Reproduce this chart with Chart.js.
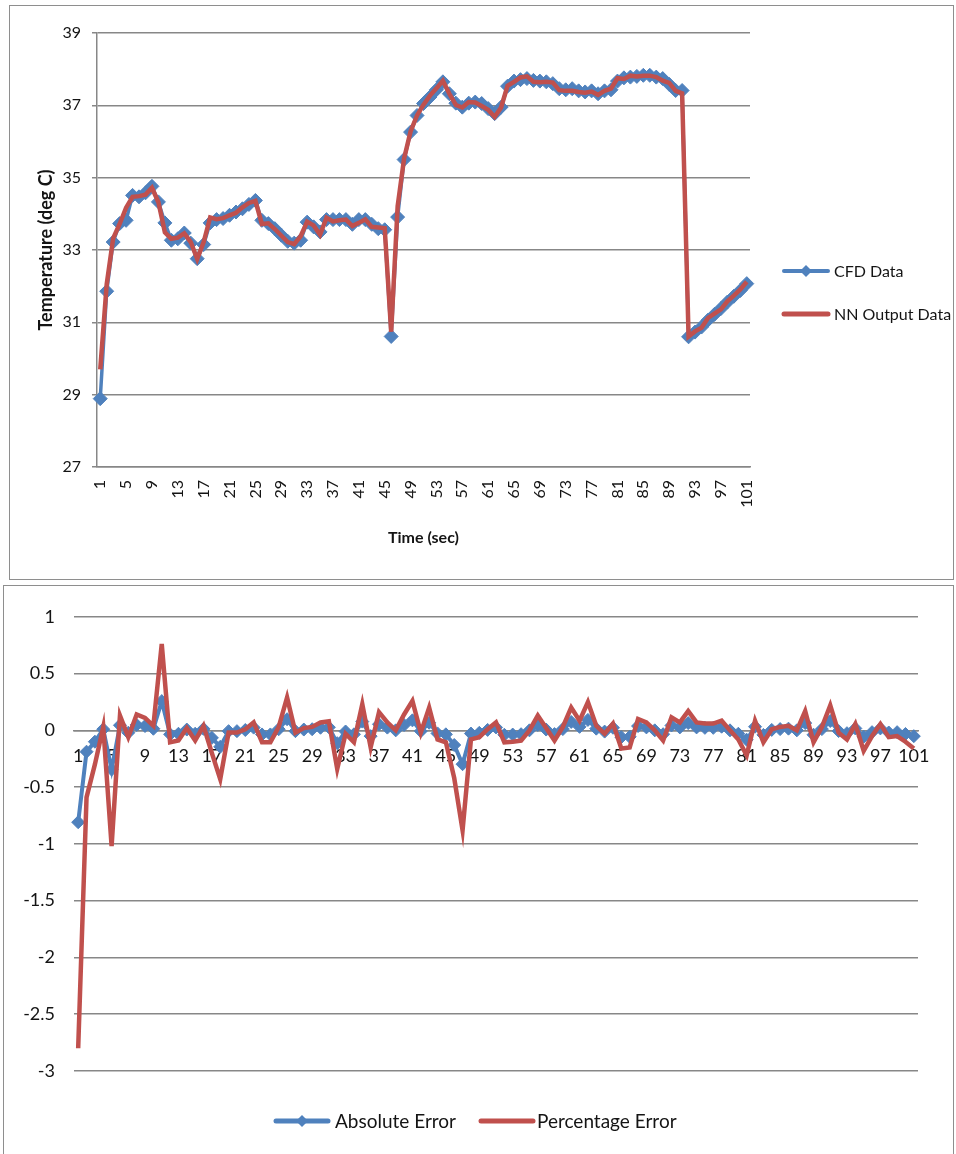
<!DOCTYPE html>
<html>
<head>
<meta charset="utf-8">
<script src="https://cdn.jsdelivr.net/npm/chart.js@4.4.1/dist/chart.umd.min.js"></script>
<style>
  html, body { margin: 0; padding: 0; background: #fff; }
  body { width: 956px; height: 1154px; position: relative; overflow: hidden; }
  .frame { position: absolute; border: 1.5px solid #8e8e8e; box-sizing: border-box; background: #fff; }
  #topFrame { left: 9px; top: 5px; width: 945px; height: 575px; }
  #bottomFrame { left: 3px; top: 585px; width: 951px; height: 590px; }
  canvas { position: absolute; }
</style>
</head>
<body>
<div class="frame" id="topFrame"></div>
<div class="frame" id="bottomFrame"></div>
<canvas id="tempChart" style="left:11px;top:7px;" width="941" height="571"></canvas>
<canvas id="errorChart" style="left:4px;top:587px;" width="949" height="567"></canvas>

<script>
// Time steps (sec)
const timeSteps = [
  '1','2','3','4','5','6','7','8','9','10','11','12','13','14','15','16','17','18','19','20',
  '21','22','23','24','25','26','27','28','29','30','31','32','33','34','35','36','37','38','39','40',
  '41','42','43','44','45','46','47','48','49','50','51','52','53','54','55','56','57','58','59','60',
  '61','62','63','64','65','66','67','68','69','70','71','72','73','74','75','76','77','78','79','80',
  '81','82','83','84','85','86','87','88','89','90','91','92','93','94','95','96','97','98','99','100',
  '101'
];

// Temperature from the CFD model (deg C)
const cfdData = [
  28.89, 31.86, 33.22, 33.73, 33.82, 34.51, 34.47, 34.58, 34.76, 34.33,
  33.75, 33.27, 33.31, 33.47, 33.19, 32.76, 33.15, 33.75, 33.84, 33.87,
  33.96, 34.05, 34.14, 34.26, 34.37, 33.82, 33.73, 33.59, 33.41, 33.24,
  33.19, 33.27, 33.77, 33.64, 33.50, 33.84, 33.84, 33.84, 33.84, 33.71,
  33.84, 33.84, 33.71, 33.59, 33.56, 30.61, 33.91, 35.50, 36.26, 36.72,
  37.05, 37.23, 37.43, 37.65, 37.32, 37.06, 36.95, 37.06, 37.09, 37.05,
  36.91, 36.77, 36.95, 37.53, 37.67, 37.71, 37.74, 37.69, 37.67, 37.65,
  37.60, 37.46, 37.43, 37.46, 37.40, 37.37, 37.40, 37.32, 37.40, 37.43,
  37.67, 37.76, 37.78, 37.80, 37.83, 37.83, 37.78, 37.74, 37.58, 37.41,
  37.41, 30.60, 30.73, 30.87, 31.06, 31.22, 31.38, 31.56, 31.72, 31.88,
  32.07
];

// Temperature predicted by the neural network (deg C)
const nnData = [
  29.70, 32.05, 33.32, 33.72, 34.17, 34.47, 34.49, 34.53, 34.72, 34.32,
  33.49, 33.31, 33.34, 33.46, 33.22, 32.75, 33.22, 33.90, 33.85, 33.88,
  33.96, 34.03, 34.18, 34.30, 34.36, 33.72, 33.74, 33.58, 33.40, 33.22,
  33.16, 33.38, 33.78, 33.68, 33.42, 33.89, 33.79, 33.82, 33.84, 33.66,
  33.75, 33.85, 33.64, 33.62, 33.60, 30.74, 34.21, 35.53, 36.28, 36.72,
  37.02, 37.27, 37.47, 37.68, 37.32, 37.01, 36.94, 37.09, 37.08, 36.98,
  36.88, 36.68, 36.94, 37.54, 37.65, 37.77, 37.80, 37.65, 37.64, 37.65,
  37.63, 37.42, 37.40, 37.40, 37.37, 37.35, 37.38, 37.29, 37.40, 37.46,
  37.75, 37.73, 37.82, 37.80, 37.82, 37.82, 37.78, 37.68, 37.62, 37.40,
  37.33, 30.61, 30.75, 30.85, 31.12, 31.24, 31.36, 31.58, 31.74, 31.91,
  32.12
];

// CFD minus NN (deg C)
const absoluteError = [
  -0.809, -0.188, -0.100, 0.010, -0.345, 0.045, -0.021, 0.048, 0.038, 0.014,
  0.257, -0.035, -0.030, 0.007, -0.030, 0.013, -0.066, -0.145, -0.007, -0.007,
  0.003, 0.024, -0.036, -0.036, 0.010, 0.098, -0.007, 0.007, 0.010, 0.023,
  0.027, -0.113, -0.010, -0.035, 0.077, -0.051, 0.054, 0.024, 0.000, 0.047,
  0.088, -0.007, 0.067, -0.027, -0.035, -0.129, -0.298, -0.028, -0.022, 0.004,
  0.026, -0.039, -0.037, -0.034, 0.000, 0.048, 0.007, -0.033, 0.011, 0.074,
  0.031, 0.092, 0.015, -0.011, 0.023, -0.060, -0.057, 0.038, 0.026, 0.000,
  -0.034, 0.043, 0.026, 0.064, 0.026, 0.022, 0.022, 0.032, 0.000, -0.030,
  -0.083, 0.032, -0.040, 0.004, 0.011, 0.015, 0.000, 0.064, -0.039, 0.011,
  0.082, -0.006, -0.025, 0.017, -0.056, -0.016, 0.017, -0.019, -0.016, -0.032,
  -0.051
];

// Error relative to the CFD value (%)
const percentageError = [
  -2.80, -0.59, -0.30, 0.03, -1.02, 0.13, -0.06, 0.14, 0.11, 0.04,
  0.76, -0.105, -0.09, 0.02, -0.09, 0.04, -0.20, -0.43, -0.02, -0.02,
  0.01, 0.07, -0.105, -0.105, 0.03, 0.29, -0.02, 0.02, 0.03, 0.07,
  0.08, -0.34, -0.03, -0.105, 0.23, -0.15, 0.16, 0.07, 0.00, 0.14,
  0.26, -0.02, 0.20, -0.08, -0.105, -0.42, -0.88, -0.08, -0.06, 0.01,
  0.07, -0.105, -0.10, -0.09, 0.00, 0.13, 0.02, -0.09, 0.03, 0.20,
  0.085, 0.25, 0.04, -0.03, 0.06, -0.16, -0.15, 0.10, 0.07, 0.00,
  -0.09, 0.115, 0.07, 0.17, 0.07, 0.06, 0.06, 0.085, 0.00, -0.08,
  -0.22, 0.085, -0.105, 0.01, 0.03, 0.04, 0.00, 0.17, -0.105, 0.03,
  0.22, -0.02, -0.08, 0.055, -0.18, -0.05, 0.055, -0.06, -0.05, -0.10,
  -0.16
];

const BLUE = '#4F81BD';
const RED = '#C0504D';
const GRID = '#878787';
const TEXT = '#141414';
const FONT = 'Lato, "Open Sans", sans-serif';

// Hand-drawn legend: a line sample (optionally with a diamond) plus the dataset label
const lineLegend = {
  id: 'lineLegend',
  afterDraw(chart, args, opts) {
    const ctx = chart.ctx;
    ctx.save();
    opts.items.forEach(item => {
      const ds = chart.data.datasets[item.dataset];
      ctx.strokeStyle = ds.borderColor;
      ctx.lineWidth = item.width;
      ctx.lineCap = 'round';
      ctx.beginPath();
      ctx.moveTo(item.x, item.y);
      ctx.lineTo(item.x + item.len, item.y);
      ctx.stroke();
      if (item.marker) {
        const cx = item.x + item.len / 2, r = item.marker;
        ctx.fillStyle = ds.borderColor;
        ctx.beginPath();
        ctx.moveTo(cx, item.y - r);
        ctx.lineTo(cx + r, item.y);
        ctx.lineTo(cx, item.y + r);
        ctx.lineTo(cx - r, item.y);
        ctx.closePath();
        ctx.fill();
      }
      ctx.fillStyle = TEXT;
      ctx.font = opts.font;
      ctx.textBaseline = 'middle';
      ctx.textAlign = 'left';
      ctx.fillText(ds.label, item.x + item.len + item.gap, item.y + 1);
    });
    ctx.restore();
  }
};

const everyFourth = function (value, index) {
  return index % 4 === 0 ? this.getLabelForValue(value) : '';
};

// Temperature chart
new Chart(document.getElementById('tempChart'), {
  type: 'line',
  data: {
    labels: timeSteps,
    datasets: [
      {
        label: 'CFD Data',
        data: cfdData,
        borderColor: BLUE,
        backgroundColor: BLUE,
        borderWidth: 3.5,
        pointStyle: 'rectRot',
        pointRadius: 7,
        pointBackgroundColor: BLUE,
        pointBorderColor: BLUE,
        pointBorderWidth: 1,
        tension: 0,
        order: 2
      },
      {
        label: 'NN Output Data',
        data: nnData,
        borderColor: RED,
        backgroundColor: RED,
        borderWidth: 4.5,
        pointRadius: 0,
        tension: 0,
        order: 1
      }
    ]
  },
  options: {
    responsive: false,
    animation: false,
    devicePixelRatio: 1,
    layout: { padding: { left: 0, top: 26, right: 202, bottom: 0 } },
    plugins: {
      legend: { display: false },
      tooltip: { enabled: false },
      lineLegend: {
        font: '16px ' + FONT,
        items: [
          { dataset: 0, x: 773, y: 264, len: 44, gap: 6, width: 4, marker: 6 },
          { dataset: 1, x: 773, y: 307, len: 44, gap: 6, width: 5 }
        ]
      }
    },
    scales: {
      x: {
        offset: true,
        grid: { display: false, drawTicks: false },
        border: { display: true, color: GRID, width: 1.5 },
        ticks: {
          autoSkip: false,
          minRotation: 90,
          maxRotation: 90,
          padding: 13,
          color: TEXT,
          font: { family: FONT, size: 16 },
          callback: everyFourth
        },
        title: {
          display: true,
          text: 'Time (sec)',
          color: TEXT,
          font: { family: FONT, size: 16, weight: 'bold' },
          padding: { top: 0, bottom: 31 }
        },
        afterFit(scale) { scale.height = 111; }
      },
      y: {
        min: 27,
        max: 39,
        grid: { color: GRID, lineWidth: 1.5, drawTicks: true, tickLength: 5, tickColor: GRID },
        border: { display: true, color: GRID, width: 1.5 },
        ticks: {
          stepSize: 2,
          padding: 11,
          color: TEXT,
          font: { family: FONT, size: 16 }
        },
        title: {
          display: true,
          text: 'Temperature (deg C)',
          color: TEXT,
          font: { family: FONT, size: 18, weight: 'bold' },
          padding: { top: 24, bottom: 0 }
        },
        afterFit(scale) { scale.width = 86; }
      }
    }
  },
  plugins: [lineLegend]
});

// Error chart
new Chart(document.getElementById('errorChart'), {
  type: 'line',
  data: {
    labels: timeSteps,
    datasets: [
      {
        label: 'Absolute Error',
        data: absoluteError,
        borderColor: BLUE,
        backgroundColor: BLUE,
        borderWidth: 4,
        pointStyle: 'rectRot',
        pointRadius: 6.5,
        pointBackgroundColor: BLUE,
        pointBorderColor: BLUE,
        pointBorderWidth: 1,
        tension: 0,
        order: 2
      },
      {
        label: 'Percentage Error',
        data: percentageError,
        borderColor: RED,
        backgroundColor: RED,
        borderWidth: 4.5,
        pointRadius: 0,
        tension: 0,
        order: 1
      }
    ]
  },
  options: {
    responsive: false,
    animation: false,
    devicePixelRatio: 1,
    layout: { padding: { left: 0, top: 26, right: 35, bottom: 83 } },
    plugins: {
      legend: { display: false },
      tooltip: { enabled: false },
      lineLegend: {
        font: '19px ' + FONT,
        items: [
          { dataset: 0, x: 272, y: 534, len: 52, gap: 7, width: 5, marker: 6 },
          { dataset: 1, x: 477, y: 534, len: 52, gap: 4, width: 5 }
        ]
      }
    },
    scales: {
      x: {
        position: { y: 0 },
        offset: true,
        grid: { display: false, drawTicks: false },
        border: { display: true, color: GRID, width: 1.5 },
        ticks: {
          autoSkip: false,
          maxRotation: 0,
          minRotation: 0,
          padding: 15,
          color: TEXT,
          font: { family: FONT, size: 18 },
          callback: everyFourth
        }
      },
      y: {
        min: -3,
        max: 1,
        grid: { color: GRID, lineWidth: 1.5, drawTicks: false },
        border: { display: false },
        ticks: {
          stepSize: 0.5,
          padding: 19,
          color: TEXT,
          font: { family: FONT, size: 18 },
          callback: value => String(value)
        },
        afterFit(scale) { scale.width = 70; }
      }
    }
  },
  plugins: [lineLegend]
});
</script>
</body>
</html>
